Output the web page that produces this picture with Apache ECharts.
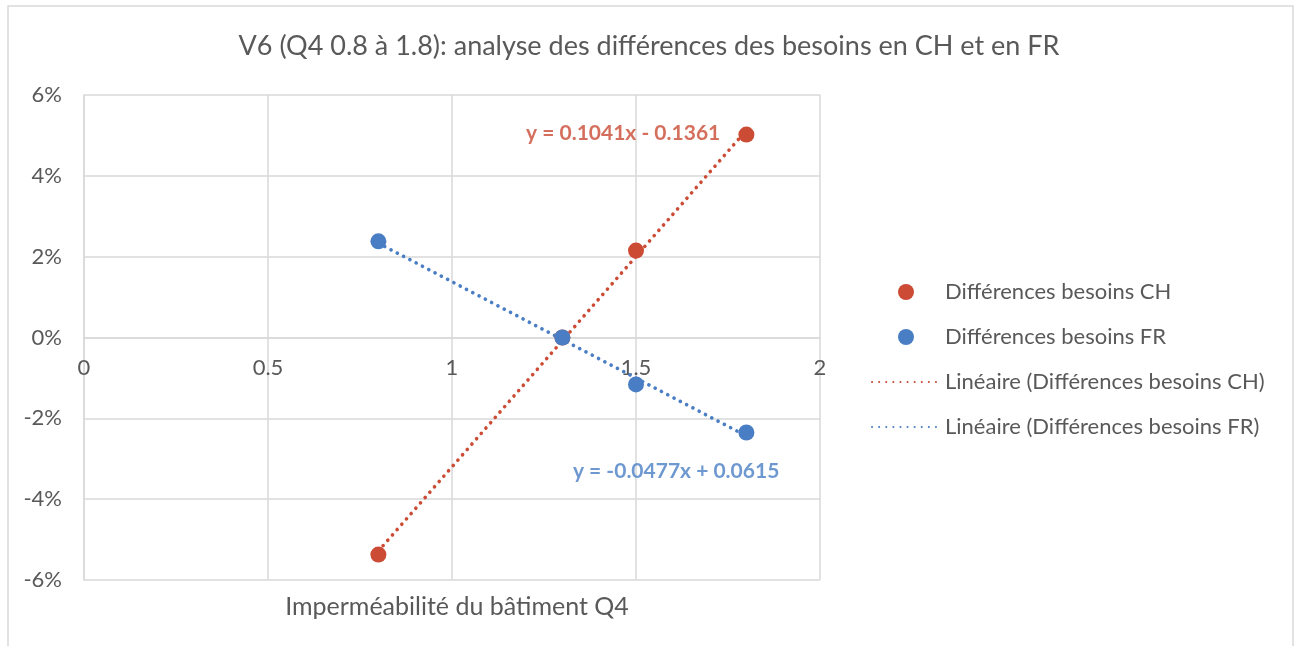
<!DOCTYPE html>
<html>
<head>
<meta charset="utf-8">
<script src="https://cdn.jsdelivr.net/npm/echarts@6/dist/echarts.min.js"></script>
<style>
html,body{margin:0;padding:0;background:#fff;}
#main{width:1298px;height:646px;}
</style>
</head>
<body>
<div id="main"></div>
<script>
// données
var xValues = [0.8, 1.3, 1.5, 1.8];
var diffCH = [-0.0537, 0, 0.0215, 0.0502];
var diffFR = [0.0238, 0, -0.0116, -0.0235];
// coefficients des courbes de tendance (pente, ordonnée)
var trendCH = [0.1041, -0.1361];
var trendFR = [-0.0477, 0.0615];
var yTicks = [-0.06, 0.06, 0.02];

var colCH = '#CB4B34';
var colFR = '#4A7EC4';
var txtCol = '#595959';
var gridCol = '#d9d9d9';
var font = 'Lato';

var gridTop = 95, gridBottom = 66;
var plotH = 646 - gridTop - gridBottom;

function pairs(xs, ys){
    var out = [];
    for(var i = 0; i < xs.length; i++){
        out.push([xs[i], ys[i]]);
    }
    return out;
}

//ligne de tendance entre le premier et le dernier x
function trend(c){
    var x0 = xValues[0], x1 = xValues[xValues.length - 1];
    return [[x0, c[0] * x0 + c[1]], [x1, c[0] * x1 + c[1]]];
}

function eqText(c){
    return 'y = ' + c[0].toFixed(4) + 'x ' + (c[1] < 0 ? '- ' : '+ ') + Math.abs(c[1]).toFixed(4);
}

var chart = echarts.init(document.getElementById('main'));

var option = {
    backgroundColor: '#fff',
    animation: false,
    title: [{
        text: 'V6 (Q4 0.8 à 1.8): analyse des différences des besoins en CH et en FR',
        left: 'center',
        top: 28,
        textStyle: {fontFamily: font, fontSize: 27, fontWeight: 'normal', color: txtCol}
    }, {
        text: 'Imperméabilité du bâtiment Q4',
        left: 452,
        textAlign: 'center',
        top: 589,
        textStyle: {fontFamily: font, fontSize: 25, fontWeight: 'normal', color: txtCol}
    }],
    graphic: [{
        type: 'rect',
        shape: {x: 8, y: 6, width: 1285, height: 660},
        style: {fill: 'none', stroke: gridCol, lineWidth: 1.5},
        silent: true
    }],
    legend: {
        orient: 'vertical',
        left: 866,
        top: 276,
        itemWidth: 68,
        itemHeight: 16,
        itemGap: 23,
        data: [
            {name: 'Différences besoins CH', icon: 'circle'},
            {name: 'Différences besoins FR', icon: 'circle'},
            {name: 'Linéaire (Différences besoins CH)', itemStyle: {opacity: 0, color: 'rgba(0,0,0,0)'}},
            {name: 'Linéaire (Différences besoins FR)', itemStyle: {opacity: 0, color: 'rgba(0,0,0,0)'}}
        ],
        textStyle: {fontFamily: font, fontSize: 22, color: txtCol}
    },
    grid: {left: 84, right: 478, top: gridTop, bottom: gridBottom},
    xAxis: {
        type: 'value',
        min: 0, max: 2, interval: 0.5,
        // l'axe passe par 0 %, au milieu de la zone
        offset: -plotH / 2,
        axisLine: {show: true, onZero: false, lineStyle: {color: gridCol, width: 1.5}},
        axisTick: {show: false},
        axisLabel: {fontFamily: font, fontSize: 22, color: txtCol, margin: 19},
        splitLine: {show: true, lineStyle: {color: gridCol, width: 1.5}}
    },
    yAxis: {
        type: 'value',
        min: yTicks[0], max: yTicks[1], interval: yTicks[2],
        axisLine: {show: true, lineStyle: {color: gridCol, width: 1.5}},
        axisTick: {show: false},
        axisLabel: {
            fontFamily: font, fontSize: 22, color: txtCol, margin: 22,
            formatter: function(v){ return Math.round(v * 100) + '%'; }
        },
        splitLine: {show: true, lineStyle: {color: gridCol, width: 1.5}}
    },
    series: [{
        name: 'Linéaire (Différences besoins CH)',
        type: 'line',
        data: trend(trendCH),
        symbol: 'none',
        color: colCH,
        lineStyle: {type: [0.1, 7], width: 3.6, cap: 'round', color: colCH},
        z: 2
    }, {
        name: 'Linéaire (Différences besoins FR)',
        type: 'line',
        data: trend(trendFR),
        symbol: 'none',
        color: colFR,
        lineStyle: {type: [0.1, 7], width: 3.6, cap: 'round', color: colFR},
        z: 2
    }, {
        name: 'Différences besoins CH',
        type: 'scatter',
        data: pairs(xValues, diffCH),
        symbolSize: 16,
        itemStyle: {color: colCH, opacity: 1},
        z: 3
    }, {
        name: 'Différences besoins FR',
        type: 'scatter',
        data: pairs(xValues, diffFR),
        symbolSize: 16,
        itemStyle: {color: colFR, opacity: 1},
        z: 3
    }, {
        // étiquettes des équations
        type: 'scatter',
        symbolSize: 0,
        silent: true,
        data: [{
            value: [1.465, 0.0505],
            label: {show: true, formatter: eqText(trendCH), color: colCH}
        }, {
            value: [1.609, -0.0331],
            label: {show: true, formatter: eqText(trendFR), color: colFR}
        }],
        label: {position: 'inside', fontFamily: font, fontSize: 21, fontWeight: 'bold'},
        z: 4
    }]
};

chart.setOption(option);
</script>
</body>
</html>
